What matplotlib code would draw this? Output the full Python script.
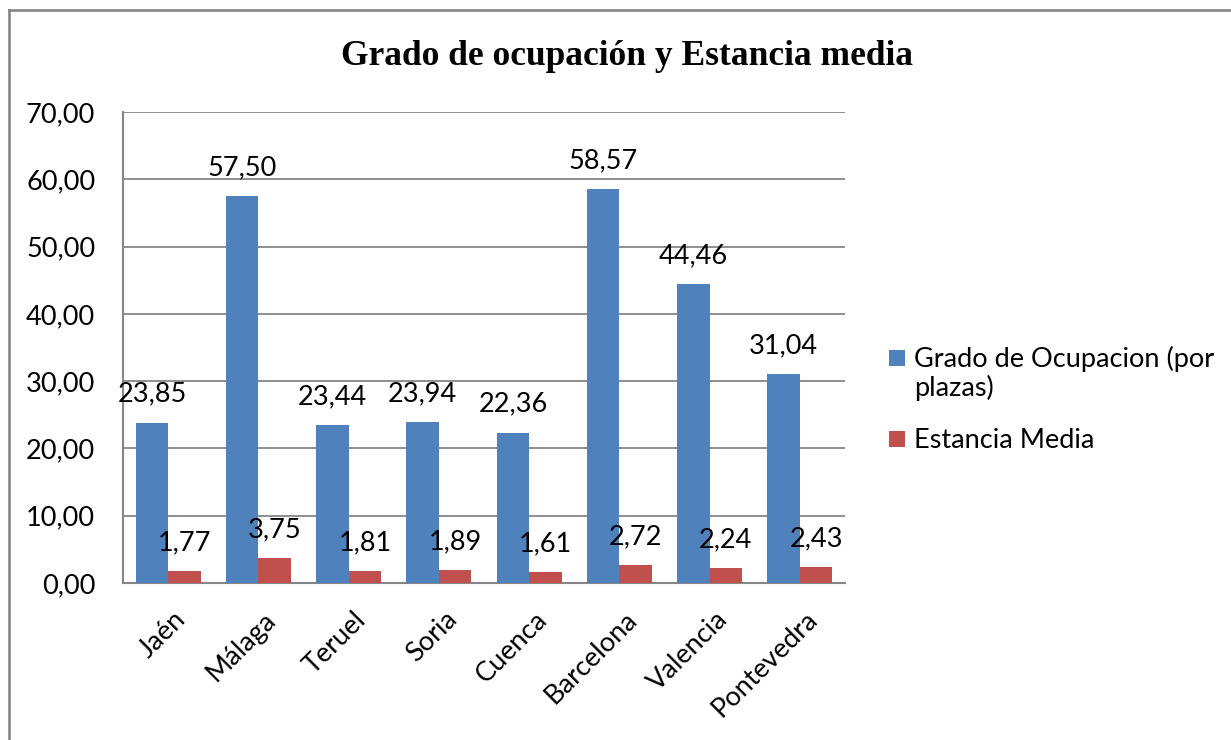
import matplotlib
matplotlib.use("Agg")
import matplotlib.pyplot as plt
import numpy as np
from matplotlib.patches import Rectangle
from matplotlib.lines import Line2D
from matplotlib.transforms import ScaledTranslation

categories = ["Jaén", "Málaga", "Teruel", "Soria", "Cuenca", "Barcelona", "Valencia", "Pontevedra"]
grado = [23.85, 57.50, 23.44, 23.94, 22.36, 58.57, 44.46, 31.04]
estancia = [1.77, 3.75, 1.81, 1.89, 1.61, 2.72, 2.24, 2.43]
legend_lines = [["Grado de Ocupacion (por", "plazas)"], ["Estancia Media"]]
title = "Grado de ocupación y Estancia media"

BLUE = "#4F81BD"
RED = "#C0504D"
GRID = "#868686"
SANS = "Lato"
FS = 19.5

W, H = 1231, 740
fig = plt.figure(figsize=(W / 100, H / 100), dpi=100)

# outer chart border (left and top edges visible)
fig.add_artist(Line2D([9 / W, 9 / W], [0, 1 - 10 / H], transform=fig.transFigure,
                      color="#7F7F7F", linewidth=1.8))
fig.add_artist(Line2D([9 / W, 1], [1 - 10 / H, 1 - 10 / H], transform=fig.transFigure,
                      color="#7F7F7F", linewidth=1.8))

ax = fig.add_axes([123 / W, 1 - 583 / H, (845 - 123) / W, (583 - 112) / H])

x = np.arange(len(categories))
bw = 0.36
b1 = ax.bar(x - bw / 2, grado, bw, color=BLUE, zorder=3)
b2 = ax.bar(x + bw / 2, estancia, bw, color=RED, zorder=3)

def fmt(v):
    return f"{v:.2f}".replace(".", ",")

for bars, vals in ((b1, grado), (b2, estancia)):
    for r, v in zip(bars, vals):
        ax.annotate(fmt(v), (r.get_x() + r.get_width() / 2, v),
                    xytext=(0, 15), textcoords="offset points",
                    ha="center", va="baseline", fontsize=FS, family=SANS,
                    color="#000000", zorder=5)

ax.set_xlim(-0.5, len(categories) - 0.5)
ax.set_ylim(0, 70)
ax.set_yticks(np.arange(0, 71, 10))
ax.set_yticklabels([fmt(v) for v in np.arange(0, 71, 10)], fontsize=FS, family=SANS)
ax.yaxis.grid(True, color=GRID, linewidth=1.3, zorder=0)
ax.set_axisbelow(True)
ax.tick_params(axis="y", length=0, pad=20)
ax.tick_params(axis="x", length=0, pad=10)
ax.set_xticks(x)
ax.set_xticklabels(categories, rotation=45, ha="right", rotation_mode="anchor",
                   fontsize=FS, family=SANS)
shift = ScaledTranslation(0.05, -0.10, fig.dpi_scale_trans)
for lab in ax.get_xticklabels():
    lab.set_transform(lab.get_transform() + shift)

for s in ("top", "right"):
    ax.spines[s].set_visible(False)
for s in ("left", "bottom"):
    ax.spines[s].set_color(GRID)
    ax.spines[s].set_linewidth(1.5)

fig.text(627 / W, 1 - 65 / H, title, ha="center", va="baseline",
         fontsize=25.5, fontweight="bold", family="Liberation Serif")

# legend drawn manually
leg_colors = [BLUE, RED]
leg_baselines = [[367, 396], [448]]
for col, lines, bls in zip(leg_colors, legend_lines, leg_baselines):
    fig.patches.append(Rectangle((889 / W, 1 - (bls[0] - 1) / H), 16 / W, 16 / H,
                                 transform=fig.transFigure, facecolor=col,
                                 edgecolor="none"))
    for txt, bl in zip(lines, bls):
        fig.text(914 / W, 1 - bl / H, txt, ha="left", va="baseline",
                 fontsize=FS, family=SANS)

fig.savefig("out.png", dpi=100, facecolor="white")
